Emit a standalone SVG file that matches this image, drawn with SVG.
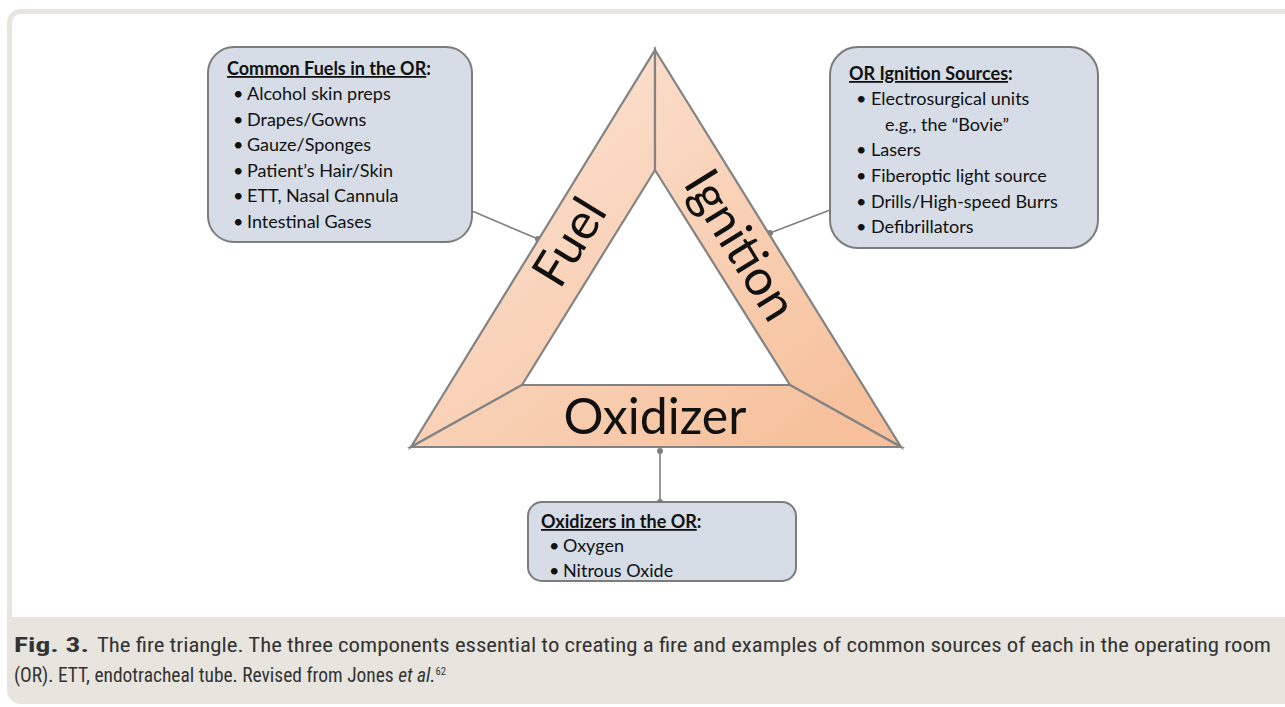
<svg xmlns="http://www.w3.org/2000/svg" width="1285" height="707" viewBox="0 0 1285 707">
<defs>
<linearGradient id="peach" gradientUnits="userSpaceOnUse" x1="500" y1="50" x2="800" y2="447">
<stop offset="0" stop-color="#fce3d4"/>
<stop offset="1" stop-color="#f6c19c"/>
</linearGradient>
<style>
.band{fill:url(#peach);stroke:#838383;stroke-width:2.2;stroke-linejoin:miter}
.big{font-family:Lato,"Open Sans","Liberation Sans",sans-serif;font-size:50px;fill:#111}
.box{fill:#d6dde6;stroke:#7c7c7c;stroke-width:2}
.t{font-family:Lato,"Open Sans","Liberation Sans",sans-serif;font-size:18px;fill:#111}
.h{font-weight:bold}
.u{text-decoration:underline}
.con{stroke:#7f7f7f;stroke-width:1.6;fill:none}
.dot{fill:#7f7f7f}
.cap{font-family:"Liberation Sans Narrow","Roboto Condensed","Liberation Sans",sans-serif;font-size:20px;fill:#333}
</style>
</defs>
<rect x="7" y="9" width="1300" height="695" rx="14" fill="#e8e5df"/>
<path d="M22,14 H1290 V617 H12 V24 Q12,14 22,14 Z" fill="#ffffff"/>

<g id="connectors">
<line class="con" x1="472" y1="211" x2="538" y2="239"/>
<circle class="dot" cx="538" cy="239" r="3"/>
<line class="con" x1="830" y1="210" x2="770" y2="233"/>
<circle class="dot" cx="770" cy="233" r="3"/>
<line class="con" x1="660" y1="450" x2="660" y2="502"/>
<circle class="dot" cx="660" cy="451" r="3"/>
<circle class="dot" cx="660" cy="502" r="3"/>
</g>

<g id="triangle">
<g id="fuel">
<polygon class="band" points="655,50 655,170 522,385 411,447"/>
<text class="big" transform="translate(584,251) rotate(-58.4)" text-anchor="middle">Fuel</text>
</g>
<g id="ignition">
<polygon class="band" points="655,50 901,447 790,385 655,170"/>
<text class="big" transform="translate(726,254) rotate(58.4)" text-anchor="middle">Ignition</text>
</g>
<g id="oxidizer">
<polygon class="band" points="411,447 522,385 790,385 901,447"/>
<text class="big" x="655" y="434" text-anchor="middle">Oxidizer</text>
</g>
</g>

<g id="fuels-box">
<rect class="box" x="208" y="47" width="264" height="195" rx="26"/>
<text class="t h" x="227" y="75"><tspan class="u">Common Fuels in the OR</tspan>:</text>
<text class="t" x="233" y="100">•</text><text class="t" x="247" y="100">Alcohol skin preps</text>
<text class="t" x="233" y="125.5">•</text><text class="t" x="247" y="125.5">Drapes/Gowns</text>
<text class="t" x="233" y="151">•</text><text class="t" x="247" y="151">Gauze/Sponges</text>
<text class="t" x="233" y="176.5">•</text><text class="t" x="247" y="176.5">Patient’s Hair/Skin</text>
<text class="t" x="233" y="202">•</text><text class="t" x="247" y="202">ETT, Nasal Cannula</text>
<text class="t" x="233" y="228">•</text><text class="t" x="247" y="228">Intestinal Gases</text>
</g>

<g id="ignition-box">
<rect class="box" x="830" y="47" width="268" height="201" rx="28"/>
<text class="t h" x="849" y="80"><tspan class="u">OR Ignition Sources</tspan>:</text>
<text class="t" x="856" y="105">•</text><text class="t" x="871" y="105">Electrosurgical units</text>
<text class="t" x="885" y="131">e.g., the “Bovie”</text>
<text class="t" x="856" y="156">•</text><text class="t" x="871" y="156">Lasers</text>
<text class="t" x="856" y="182">•</text><text class="t" x="871" y="182">Fiberoptic light source</text>
<text class="t" x="856" y="208">•</text><text class="t" x="871" y="208">Drills/High-speed Burrs</text>
<text class="t" x="856" y="233">•</text><text class="t" x="871" y="233">Defibrillators</text>
</g>

<g id="oxidizers-box">
<rect class="box" x="528" y="502" width="268" height="79" rx="14"/>
<text class="t h" x="541" y="528"><tspan class="u">Oxidizers in the OR</tspan>:</text>
<text class="t" x="549" y="552">•</text><text class="t" x="563" y="552">Oxygen</text>
<text class="t" x="549" y="577">•</text><text class="t" x="563" y="577">Nitrous Oxide</text>
</g>

<g id="caption">
<text class="cap" x="14" y="652" font-weight="bold" fill="#222" textLength="75" lengthAdjust="spacingAndGlyphs">Fig. 3.</text>
<text class="cap" x="97" y="652" textLength="1174" lengthAdjust="spacingAndGlyphs">The fire triangle. The three components essential to creating a fire and examples of common sources of each in the operating room</text>
<text class="cap" x="14" y="682" textLength="432" lengthAdjust="spacingAndGlyphs">(OR). ETT, endotracheal tube. Revised from Jones <tspan font-style="italic">et al.</tspan><tspan font-size="11" dy="-7">62</tspan></text>
</g>
</svg>
